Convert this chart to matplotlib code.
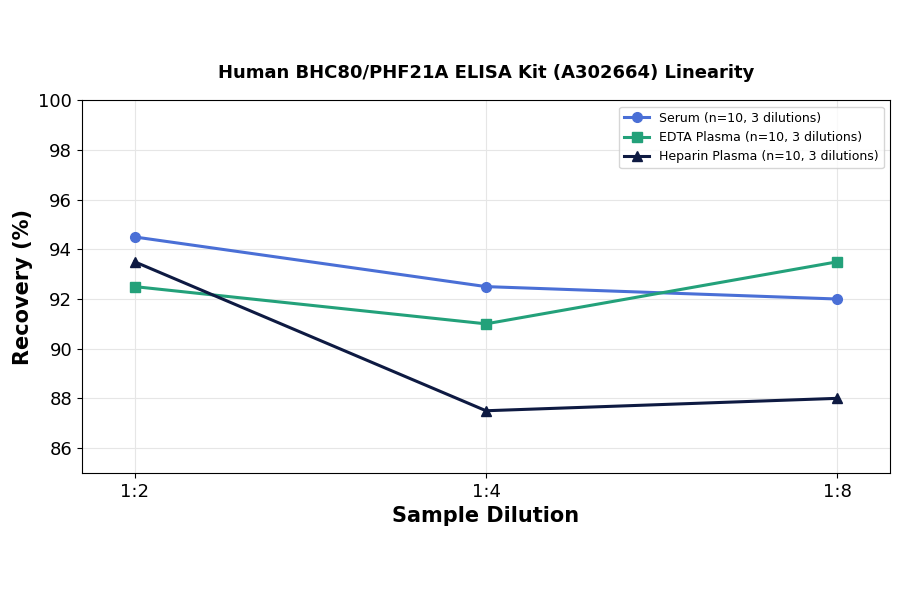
import matplotlib
matplotlib.use("Agg")
import matplotlib.pyplot as plt

dilutions = ["1:2", "1:4", "1:8"]
serum = [94.5, 92.5, 92.0]
edta = [92.5, 91.0, 93.5]
heparin = [93.5, 87.5, 88.0]

fig = plt.figure(figsize=(9, 5.94), dpi=100)
ax = fig.add_axes([0.091, 0.204, 0.898, 0.627])
x = range(len(dilutions))
ax.plot(x, serum, marker="o", color="#4a6fd6", lw=2.2, ms=7, label="Serum (n=10, 3 dilutions)")
ax.plot(x, edta, marker="s", color="#23a17a", lw=2.2, ms=7, label="EDTA Plasma (n=10, 3 dilutions)")
ax.plot(x, heparin, marker="^", color="#0e1a42", lw=2.2, ms=7, label="Heparin Plasma (n=10, 3 dilutions)")
ax.set_xticks(list(x))
ax.set_xticklabels(dilutions)
ax.set_xlim(-0.15, 2.15)
ax.set_ylim(85, 100)
ax.set_yticks(range(86, 101, 2))
ax.tick_params(labelsize=13)
ax.grid(True, color="#e6e6e6", lw=0.8)
ax.set_xlabel("Sample Dilution", fontsize=15, fontweight="bold")
ax.set_ylabel("Recovery (%)", fontsize=15, fontweight="bold")
ax.set_title("Human BHC80/PHF21A ELISA Kit (A302664) Linearity", fontsize=13, fontweight="bold", pad=16)
ax.legend(loc="upper right", fontsize=9)
fig.savefig("out.png", dpi=100)
